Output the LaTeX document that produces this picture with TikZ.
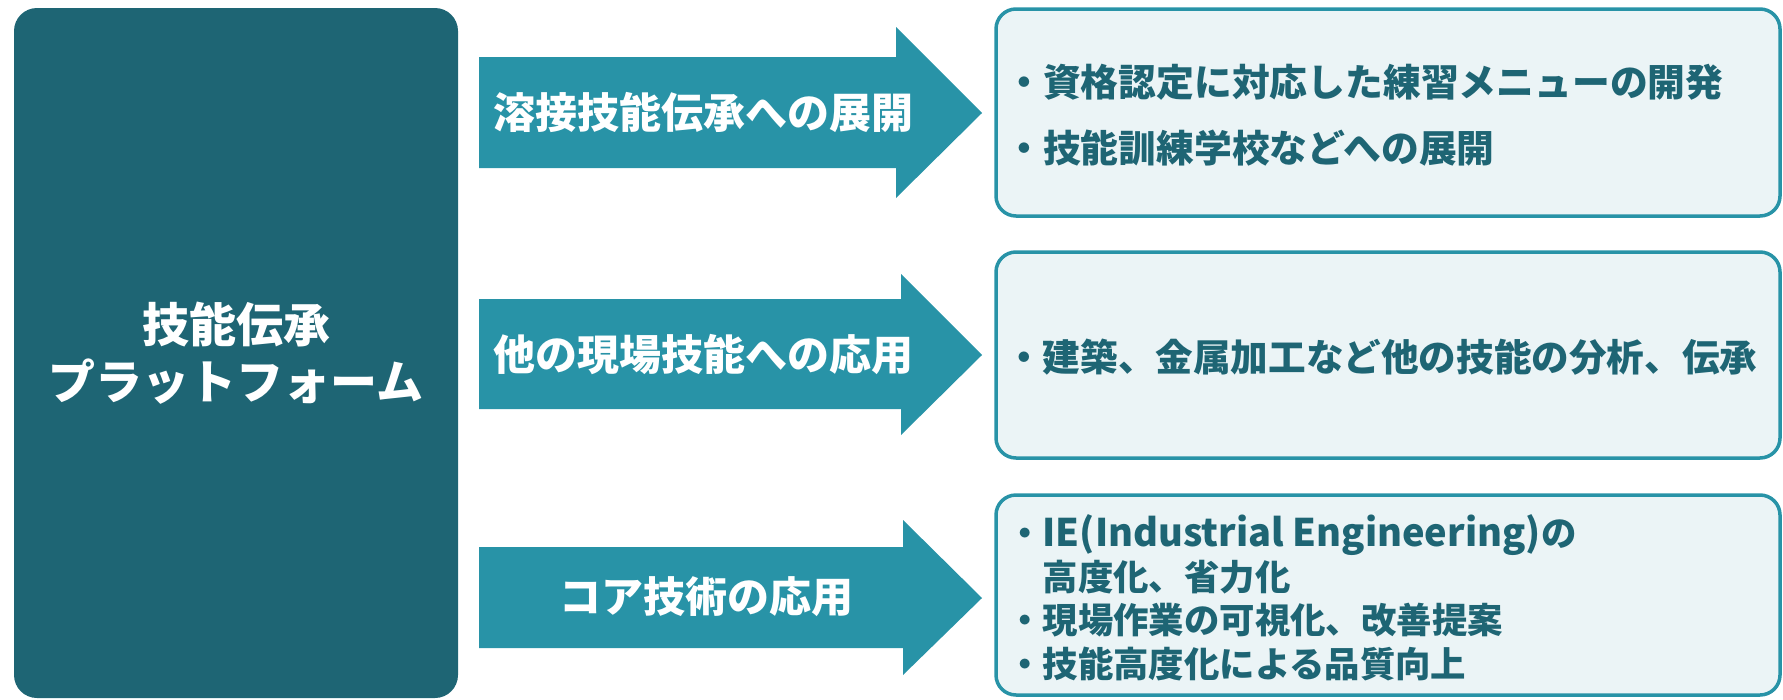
\documentclass[tikz,border=0pt]{standalone}
\usepackage{fontspec}
\setmainfont{Noto Sans CJK JP}
\definecolor{darkteal}{HTML}{1E6574}
\definecolor{midteal}{HTML}{2893A7}
\definecolor{paleteal}{HTML}{EBF4F6}
\tikzset{
  leftbox/.style={fill=darkteal, rounded corners=23pt, inner sep=0pt, text=white, align=center, font=\bfseries\fontsize{47}{57}\selectfont},
  arrowbody/.style={fill=midteal},
  arrowlabel/.style={text=white, inner sep=0pt, font=\bfseries\fontsize{42}{50}\selectfont},
  rbox/.style={draw=midteal, line width=3.5pt, fill=paleteal, rounded corners=20pt, inner sep=0pt},
  rtext/.style={text=darkteal, anchor=west, inner sep=0pt, align=left}
}
\begin{document}
\begin{tikzpicture}[x=1pt,y=-1pt]
\useasboundingbox (0,0) rectangle (1783,699);
% left box
\node[leftbox, minimum width=444pt, minimum height=690pt] (src) at (236,353) {技能伝承\\プラットフォーム};
% arrows
\fill[arrowbody] (479,57) -- (896,57) -- (896,27) -- (982,113) -- (896,198) -- (896,168) -- (479,168) -- cycle;
\fill[arrowbody] (479,299) -- (901,299) -- (901,274) -- (982,355) -- (901,435) -- (901,409) -- (479,409) -- cycle;
\fill[arrowbody] (479,547) -- (903,547) -- (903,520) -- (982,598) -- (903,675) -- (903,648) -- (479,648) -- cycle;
\node[arrowlabel] (a1) at (703,112) {溶接技能伝承への展開};
\node[arrowlabel] (a2) at (703,355) {他の現場技能への応用};
\node[arrowlabel] (a3) at (706,597) {コア技術の応用};
% right boxes
\node[rbox, minimum width=784pt, minimum height=207pt] (b1) at (1388,112.5) {};
\node[rbox, minimum width=784pt, minimum height=206pt] (b2) at (1388,355) {};
\node[rbox, minimum width=784pt, minimum height=200pt] (b3) at (1388,595) {};
\node[rtext, font=\bfseries\fontsize{37.8}{66}\selectfont] (t1) at (1005,115) {・資格認定に対応した練習メニューの開発\\・技能訓練学校などへの展開};
\node[rtext, font=\bfseries\fontsize{37.6}{44}\selectfont] (t2) at (1005,357) {・建築、金属加工など他の技能の分析、伝承};
\node[rtext, font=\bfseries\fontsize{35.4}{43.5}\selectfont] (t3) at (1007,598) {・{\fontsize{38}{43.5}\selectfont IE(Industrial Engineering)}の\\\hspace*{1em}高度化、省力化\\・現場作業の可視化、改善提案\\・技能高度化による品質向上};
\end{tikzpicture}
\end{document}
